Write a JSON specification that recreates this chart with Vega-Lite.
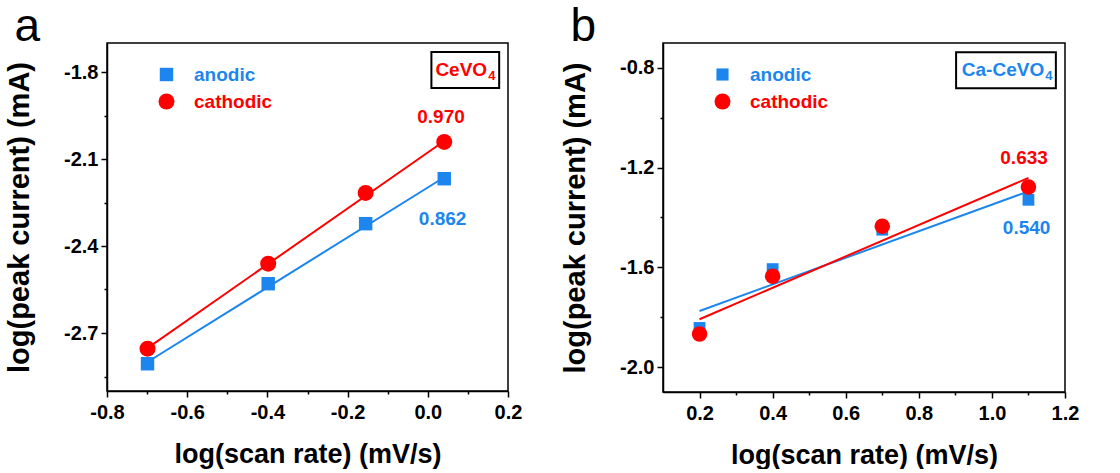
{
  "$schema": "https://vega.github.io/schema/vega-lite/v6.json",
  "background": "white",
  "padding": {"left": 4, "top": 3, "right": 0, "bottom": 0},
  "spacing": 37,
  "config": {
    "font": "Liberation Sans",
    "view": {"stroke": "black", "strokeWidth": 1.5},
    "axis": {
      "grid": false,
      "domainColor": "black",
      "domainWidth": 1.5,
      "tickColor": "black",
      "tickWidth": 1.5,
      "labelFont": "Liberation Sans",
      "labelFontWeight": "bold",
      "labelFontSize": 20,
      "labelColor": "black",
      "titleFont": "Liberation Sans",
      "titleFontWeight": "bold",
      "titleColor": "black",
      "labelOverlap": false,
      "labelFlush": false
    },
    "axisX": {"titleFontSize": 27, "labelPadding": 5, "titlePadding": 19},
    "axisY": {"titleFontSize": 29, "labelPadding": 3, "titlePadding": 29},
    "legend": {"labelFont": "Liberation Sans", "labelFontWeight": "bold", "labelFontSize": 19},
    "title": {"font": "Liberation Sans", "fontSize": 46, "fontWeight": "normal", "color": "black", "anchor": "start", "frame": "bounds", "offset": -8, "dx": 9}
  },
  "datasets": {
    "pts": [
      {"panel": "a", "series": "anodic", "x": -0.699, "y": -2.806},
      {"panel": "a", "series": "anodic", "x": -0.398, "y": -2.530},
      {"panel": "a", "series": "anodic", "x": -0.155, "y": -2.323},
      {"panel": "a", "series": "anodic", "x": 0.041, "y": -2.168},
      {"panel": "a", "series": "cathodic", "x": -0.699, "y": -2.754},
      {"panel": "a", "series": "cathodic", "x": -0.398, "y": -2.461},
      {"panel": "a", "series": "cathodic", "x": -0.155, "y": -2.217},
      {"panel": "a", "series": "cathodic", "x": 0.041, "y": -2.041},
      {"panel": "b", "series": "anodic", "x": 0.2, "y": -1.843},
      {"panel": "b", "series": "anodic", "x": 0.4, "y": -1.607},
      {"panel": "b", "series": "anodic", "x": 0.7, "y": -1.449},
      {"panel": "b", "series": "anodic", "x": 1.1, "y": -1.329},
      {"panel": "b", "series": "cathodic", "x": 0.2, "y": -1.867},
      {"panel": "b", "series": "cathodic", "x": 0.4, "y": -1.636},
      {"panel": "b", "series": "cathodic", "x": 0.7, "y": -1.435},
      {"panel": "b", "series": "cathodic", "x": 1.1, "y": -1.278}
    ],
    "fits": [
      {"panel": "a", "series": "anodic", "x": -0.699, "y": -2.800},
      {"panel": "a", "series": "anodic", "x": 0.041, "y": -2.163},
      {"panel": "a", "series": "cathodic", "x": -0.699, "y": -2.752},
      {"panel": "a", "series": "cathodic", "x": 0.041, "y": -2.038},
      {"panel": "b", "series": "anodic", "x": 0.2, "y": -1.775},
      {"panel": "b", "series": "anodic", "x": 1.1, "y": -1.295},
      {"panel": "b", "series": "cathodic", "x": 0.2, "y": -1.808},
      {"panel": "b", "series": "cathodic", "x": 1.1, "y": -1.241}
    ]
  },
  "resolve": {
    "scale": {"x": "independent", "y": "independent", "color": "independent", "shape": "independent"},
    "axis": {"x": "independent", "y": "independent"},
    "legend": {"color": "independent", "shape": "independent"}
  },
  "hconcat": [
    {
      "width": 401,
      "height": 348,
      "title": {"text": "a"},
      "layer": [
        {
          "data": {"name": "fits"},
          "transform": [{"filter": "datum.panel === 'a' && datum.series === 'anodic'"}],
          "mark": {"type": "line", "strokeWidth": 2, "color": "#1C86EE"},
          "encoding": {
            "x": {"field": "x", "type": "quantitative", "scale": {"domain": [-0.8, 0.2], "nice": false, "zero": false},
              "axis": {"title": "log(scan rate) (mV/s)", "values": [-0.8, -0.7, -0.6, -0.5, -0.4, -0.3, -0.2, -0.1, 0, 0.1, 0.2],
                "labelExpr": "round(datum.value*10)%2 === 0 ? replace(format(datum.value, '.1f'), '\u2212', '-') : ''",
                "tickSize": {"condition": {"test": "round(datum.value*10)%2 !== 0", "value": 3}, "value": 6}}},
            "y": {"field": "y", "type": "quantitative", "scale": {"domain": [-2.9, -1.7], "nice": false, "zero": false},
              "axis": {"title": "log(peak current) (mA)", "values": [-2.85, -2.7, -2.55, -2.4, -2.25, -2.1, -1.95, -1.8],
                "labelExpr": "indexof([-2.7, -2.4, -2.1, -1.8], datum.value) >= 0 ? replace(format(datum.value, '.1f'), '\u2212', '-') : ''",
                "tickSize": {"condition": {"test": "indexof([-2.7, -2.4, -2.1, -1.8], datum.value) < 0", "value": 3}, "value": 6}}}
          }
        },
        {
          "data": {"name": "fits"},
          "transform": [{"filter": "datum.panel === 'a' && datum.series === 'cathodic'"}],
          "mark": {"type": "line", "strokeWidth": 2, "color": "#FF0000"},
          "encoding": {
            "x": {"field": "x", "type": "quantitative"},
            "y": {"field": "y", "type": "quantitative"}
          }
        },
        {
          "data": {"name": "pts"},
          "transform": [{"filter": "datum.panel === 'a'"}],
          "mark": {"type": "point", "filled": true, "opacity": 1, "size": 256},
          "encoding": {
            "x": {"field": "x", "type": "quantitative"},
            "y": {"field": "y", "type": "quantitative"},
            "color": {"field": "series", "type": "nominal", "scale": {"domain": ["anodic", "cathodic"], "range": ["#1C86EE", "#FF0000"]},
              "legend": {"title": null, "orient": "none", "legendX": 50, "legendY": 22, "padding": 0, "symbolSize": 256, "symbolStrokeWidth": 0, "labelOffset": 18, "rowPadding": 7,
                "labelColor": {"expr": "datum.value === 'anodic' ? '#1C86EE' : '#FF0000'"}}},
            "shape": {"field": "series", "type": "nominal", "scale": {"domain": ["anodic", "cathodic"], "range": ["M-0.84,-0.84H0.84V0.84H-0.84Z", "circle"]},
              "legend": {"title": null, "orient": "none", "legendX": 50, "legendY": 22, "padding": 0, "symbolSize": 256, "symbolStrokeWidth": 0, "labelOffset": 18, "rowPadding": 7,
                "labelColor": {"expr": "datum.value === 'anodic' ? '#1C86EE' : '#FF0000'"}}}
          }
        },
        {
          "data": {"values": [{}]},
          "mark": {"type": "text", "text": "0.970", "color": "#FF0000", "fontSize": 19, "fontWeight": "bold", "align": "center", "baseline": "middle"},
          "encoding": {"x": {"datum": 0.033}, "y": {"datum": -1.955}}
        },
        {
          "data": {"values": [{}]},
          "mark": {"type": "text", "text": "0.862", "color": "#1C86EE", "fontSize": 19, "fontWeight": "bold", "align": "center", "baseline": "middle"},
          "encoding": {"x": {"datum": 0.037}, "y": {"datum": -2.306}}
        },
        {
          "data": {"values": [{}]},
          "mark": {"type": "rect", "fill": "white", "stroke": "black", "strokeWidth": 2},
          "encoding": {"x": {"datum": 0.009}, "x2": {"datum": 0.178}, "y": {"datum": -1.731}, "y2": {"datum": -1.855}}
        },
        {
          "data": {"values": [{}]},
          "mark": {"type": "text", "text": "CeVO", "color": "#FF0000", "fontSize": 19, "fontWeight": "bold", "align": "right", "baseline": "middle"},
          "encoding": {"x": {"datum": 0.148}, "y": {"datum": -1.793}}
        },
        {
          "data": {"values": [{}]},
          "mark": {"type": "text", "text": "4", "color": "#FF0000", "fontSize": 13, "fontWeight": "bold", "align": "left", "baseline": "middle", "dx": 1, "dy": 6},
          "encoding": {"x": {"datum": 0.148}, "y": {"datum": -1.793}}
        }
      ]
    },
    {
      "width": 402,
      "height": 349,
      "title": {"text": "b"},
      "layer": [
        {
          "data": {"name": "fits"},
          "transform": [{"filter": "datum.panel === 'b' && datum.series === 'anodic'"}],
          "mark": {"type": "line", "strokeWidth": 2, "color": "#1C86EE"},
          "encoding": {
            "x": {"field": "x", "type": "quantitative", "scale": {"domain": [0.1, 1.2], "nice": false, "zero": false},
              "axis": {"title": "log(scan rate) (mV/s)", "values": [0.2, 0.3, 0.4, 0.5, 0.6, 0.7, 0.8, 0.9, 1.0, 1.1, 1.2],
                "labelExpr": "round(datum.value*10)%2 === 0 ? format(datum.value, '.1f') : ''",
                "tickSize": {"condition": {"test": "round(datum.value*10)%2 !== 0", "value": 3}, "value": 6}}},
            "y": {"field": "y", "type": "quantitative", "scale": {"domain": [-2.1, -0.7], "nice": false, "zero": false},
              "axis": {"title": "log(peak current) (mA)", "values": [-2.0, -1.8, -1.6, -1.4, -1.2, -1.0, -0.8],
                "labelExpr": "indexof([-2.0, -1.6, -1.2, -0.8], datum.value) >= 0 ? replace(format(datum.value, '.1f'), '\u2212', '-') : ''",
                "tickSize": {"condition": {"test": "indexof([-2.0, -1.6, -1.2, -0.8], datum.value) < 0", "value": 3}, "value": 6}}}
          }
        },
        {
          "data": {"name": "fits"},
          "transform": [{"filter": "datum.panel === 'b' && datum.series === 'cathodic'"}],
          "mark": {"type": "line", "strokeWidth": 2, "color": "#FF0000"},
          "encoding": {
            "x": {"field": "x", "type": "quantitative"},
            "y": {"field": "y", "type": "quantitative"}
          }
        },
        {
          "data": {"name": "pts"},
          "transform": [{"filter": "datum.panel === 'b'"}],
          "mark": {"type": "point", "filled": true, "opacity": 1, "size": 240},
          "encoding": {
            "x": {"field": "x", "type": "quantitative"},
            "y": {"field": "y", "type": "quantitative"},
            "color": {"field": "series", "type": "nominal", "scale": {"domain": ["anodic", "cathodic"], "range": ["#1C86EE", "#FF0000"]},
              "legend": {"title": null, "orient": "none", "legendX": 50, "legendY": 22, "padding": 0, "symbolSize": 256, "symbolStrokeWidth": 0, "labelOffset": 18, "rowPadding": 7,
                "labelColor": {"expr": "datum.value === 'anodic' ? '#1C86EE' : '#FF0000'"}}},
            "shape": {"field": "series", "type": "nominal", "scale": {"domain": ["anodic", "cathodic"], "range": ["M-0.76,-0.76H0.76V0.76H-0.76Z", "circle"]},
              "legend": {"title": null, "orient": "none", "legendX": 50, "legendY": 22, "padding": 0, "symbolSize": 256, "symbolStrokeWidth": 0, "labelOffset": 18, "rowPadding": 7,
                "labelColor": {"expr": "datum.value === 'anodic' ? '#1C86EE' : '#FF0000'"}}}
          }
        },
        {
          "data": {"values": [{}]},
          "mark": {"type": "text", "text": "0.633", "color": "#FF0000", "fontSize": 19, "fontWeight": "bold", "align": "center", "baseline": "middle"},
          "encoding": {"x": {"datum": 1.088}, "y": {"datum": -1.16}}
        },
        {
          "data": {"values": [{}]},
          "mark": {"type": "text", "text": "0.540", "color": "#1C86EE", "fontSize": 19, "fontWeight": "bold", "align": "center", "baseline": "middle"},
          "encoding": {"x": {"datum": 1.095}, "y": {"datum": -1.442}}
        },
        {
          "data": {"values": [{}]},
          "mark": {"type": "rect", "fill": "white", "stroke": "black", "strokeWidth": 2},
          "encoding": {"x": {"datum": 0.902}, "x2": {"datum": 1.175}, "y": {"datum": -0.737}, "y2": {"datum": -0.882}}
        },
        {
          "data": {"values": [{}]},
          "mark": {"type": "text", "text": "Ca-CeVO", "color": "#1C86EE", "fontSize": 19, "fontWeight": "bold", "align": "right", "baseline": "middle"},
          "encoding": {"x": {"datum": 1.143}, "y": {"datum": -0.81}}
        },
        {
          "data": {"values": [{}]},
          "mark": {"type": "text", "text": "4", "color": "#1C86EE", "fontSize": 13, "fontWeight": "bold", "align": "left", "baseline": "middle", "dx": 1, "dy": 6},
          "encoding": {"x": {"datum": 1.143}, "y": {"datum": -0.81}}
        }
      ]
    }
  ]
}
